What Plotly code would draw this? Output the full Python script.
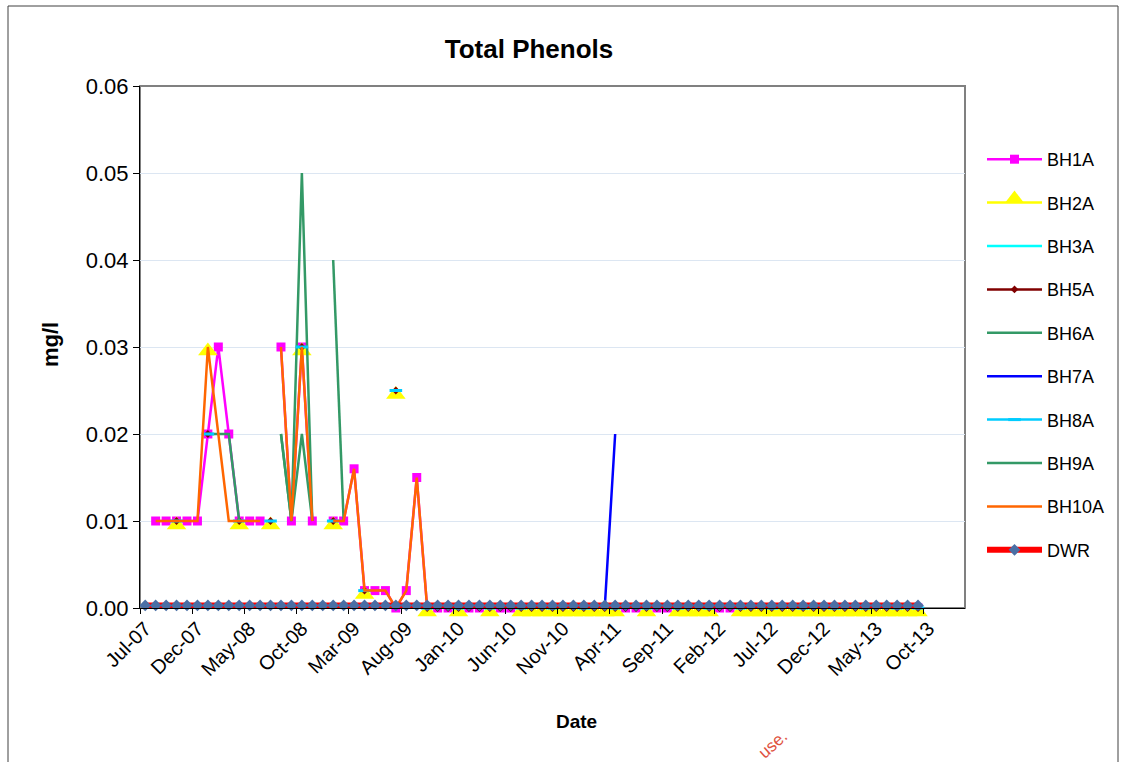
import plotly.graph_objects as go

# ---------------- data (index 0 = Jul-07, monthly) ----------------
tick_labels = ["Jul-07", "Dec-07", "May-08", "Oct-08", "Mar-09", "Aug-09", "Jan-10", "Jun-10",
               "Nov-10", "Apr-11", "Sep-11", "Feb-12", "Jul-12", "Dec-12", "May-13", "Oct-13"]
tick_index = [0, 5, 10, 15, 20, 25, 30, 35, 40, 45, 50, 55, 60, 65, 70, 75]
month_index = list(range(75))  # Jul-07 .. Sep-13

N = None
bh1a = [N, 0.01, 0.01, 0.01, 0.01, 0.01, 0.02, 0.03, 0.02, 0.01,
        0.01, 0.01, N, 0.03, 0.01, 0.03, 0.01, N, 0.01, 0.01,
        0.016, 0.002, 0.002, 0.002, 0, 0.002, 0.015, 0, 0, 0,
        0, 0, 0, 0, 0, 0, 0, 0, 0, 0,
        0, 0, 0, 0, 0, 0, 0, 0, 0, 0,
        0, 0, 0, 0, 0, 0, 0, 0, 0, 0,
        0, 0, 0, 0, 0, 0, 0, 0, 0, 0,
        0, 0, 0, 0, 0]
bh2a = [N, N, N, 0.01, N, N, 0.03, N, N, 0.01,
        N, N, 0.01, N, N, 0.03, N, N, 0.01, N,
        N, 0.002, N, N, 0.025, N, N, 0, N, N,
        0, N, N, 0, N, N, 0, 0, 0, 0,
        0, 0, 0, 0, 0, 0, N, N, 0, N,
        N, 0, 0, 0, 0, N, N, 0, 0, 0,
        0, 0, 0, 0, 0, 0, 0, 0, 0, 0,
        0, 0, 0, 0, 0]
bh3a = [N, N, N, 0.01, N, N, 0.02, N, N, 0.01,
        N, N, 0.01, N, N, 0.03, N, N, 0.01, N,
        N, 0.002, N, N, 0.025, N, N, 0, N, N,
        0, N, N, 0, N, N, 0, N, N, 0,
        N, N, 0, N, N, 0, N, N, 0, N,
        N, 0, N, N, 0, N, N, 0, N, N,
        0, N, N, 0, N, N, 0, N, N, 0,
        N, N, 0, N, N]
bh5a = [N, N, N, 0.01, N, N, 0.02, N, N, 0.01,
        N, N, 0.01, N, N, 0.03, N, N, 0.01, N,
        N, 0.002, N, N, 0.025, N, N, 0, 0, 0,
        0, 0, 0, 0, 0, 0, 0, 0, 0, 0,
        0, 0, 0, 0, 0, 0, 0, 0, 0, 0,
        0, 0, 0, 0, 0, 0, 0, 0, 0, 0,
        0, 0, 0, 0, 0, 0, 0, 0, 0, 0,
        0, 0, 0, 0, 0]
bh6a = [N, N, N, N, N, N, 0.02, 0.02, 0.02, 0.01,
        N, N, N, 0.02, 0.01, 0.05, 0.01, N, 0.04, 0.01,
        N, N, N, N, N, N, N, N, N, N,
        N, N, N, N, N, N, N, N, N, N,
        N, N, N, N, N, N, N, N, N, N,
        N, N, N, N, N, N, N, N, N, N,
        N, N, N, N, N, N, N, N, N, N,
        N, N, N, N, N]
bh7a = [N, N, N, N, N, N, N, N, N, N,
        N, N, N, N, N, N, N, N, N, N,
        N, N, N, N, N, N, N, 0, 0, 0,
        0, 0, 0, 0, 0, 0, 0, 0, 0, 0,
        0, 0, 0, 0, 0, 0.02, N, N, N, N,
        N, N, N, N, N, N, N, N, N, N,
        N, N, N, N, N, N, N, N, N, N,
        N, N, N, N, N]
bh8a = [N, N, N, 0.01, N, N, 0.02, N, N, 0.01,
        N, N, 0.01, N, N, 0.03, N, N, 0.01, N,
        N, 0.002, N, N, 0.025, N, N, 0, N, N,
        0, N, N, 0, N, N, 0, N, N, 0,
        N, N, 0, N, N, 0, N, N, 0, N,
        N, 0, N, N, 0, N, N, 0, N, N,
        0, N, N, 0, N, N, 0, N, N, 0,
        N, N, 0, N, 0]
bh9a = [N, N, N, N, N, N, N, N, N, N,
        N, N, N, 0.02, 0.01, 0.02, 0.01, N, N, N,
        N, N, N, N, N, N, N, N, N, N,
        N, N, N, N, N, N, N, N, N, N,
        N, N, N, N, N, N, N, N, N, N,
        N, N, N, N, N, N, N, N, N, N,
        N, N, N, N, N, N, N, N, N, N,
        N, N, N, N, N]
bh10a = [N, 0.01, 0.01, 0.01, 0.01, 0.01, 0.03, 0.02, 0.01, 0.01,
         0.01, 0.01, N, 0.03, 0.01, 0.03, 0.01, N, 0.01, 0.01,
         0.016, 0.002, 0.002, 0.002, 0, 0.002, 0.015, 0, 0, 0,
         0, 0, 0, 0, 0, 0, 0, 0, 0, 0,
         0, 0, 0, 0, 0, 0, 0, 0, 0, 0,
         0, 0, 0, 0, 0, 0, 0, 0, 0, 0,
         0, 0, 0, 0, 0, 0, 0, 0, 0, 0,
         0, 0, 0, 0, 0]
dwr = [0.0003] * 75

FONT = "Liberation Sans, Arial, sans-serif"

series = [
    ("BH1A", bh1a, dict(color="#FF00FF", width=2.5), dict(symbol="square", size=9, color="#FF00FF"), "lines+markers"),
    ("BH2A", bh2a, dict(color="#FFFF00", width=2.5),
     dict(symbol="triangle-up", angle=0, standoff=4, size=17, color="#FFFF00"), "lines+markers"),
    ("BH3A", bh3a, dict(color="#00FFFF", width=2.5), None, "lines"),
    ("BH5A", bh5a, dict(color="#800000", width=2.5), dict(symbol="diamond", size=6, color="#800000"), "lines+markers"),
    ("BH6A", bh6a, dict(color="#339966", width=2.5), None, "lines"),
    ("BH7A", bh7a, dict(color="#0000FF", width=2.5), None, "lines"),
    ("BH8A", bh8a, dict(color="#00CCFF", width=2.5),
     dict(symbol="line-ew", size=9, color="#00CCFF", line=dict(color="#00CCFF", width=3)), "lines+markers"),
    ("BH9A", bh9a, dict(color="#339966", width=2.5), None, "lines"),
    ("BH10A", bh10a, dict(color="#FF6600", width=2.5), None, "lines"),
    ("DWR", dwr, dict(color="#FF0000", width=6), dict(symbol="diamond", size=9, color="#4A6FA5"), "lines+markers"),
]

fig = go.Figure()
for name, vals, line, marker, mode in series:
    kw = dict(x=month_index, y=vals, name=name, mode=mode, line=line,
              connectgaps=False, cliponaxis=False, legendgroup=name)
    if marker is not None:
        kw["marker"] = marker
    fig.add_trace(go.Scatter(**kw))

L, R, T, B = 140, 161, 86, 154
W, H = 1126, 762
pw, ph = W - L - R, H - T - B

def px_x(x):
    return (x - L) / pw

def px_y(y):
    return (H - B - y) / ph

fig.update_layout(
    width=W, height=H, autosize=False,
    margin=dict(l=L, r=R, t=T, b=B, pad=0),
    paper_bgcolor="white", plot_bgcolor="white",
    font=dict(family=FONT, size=18, color="black"),
    title=dict(text="<b>Total Phenols</b>", x=529 / W, xref="container", xanchor="center",
               y=1 - 49 / H, yref="container", yanchor="middle",
               font=dict(family=FONT, size=26, color="black")),
    showlegend=True,
    legend=dict(x=px_x(982), y=px_y(141), xanchor="left", yanchor="top",
                font=dict(family=FONT, size=18, color="black"),
                tracegroupgap=17, itemwidth=55, bgcolor="rgba(0,0,0,0)"),
    xaxis=dict(range=[-0.5, 78.5], tickmode="array", tickvals=tick_index, ticktext=tick_labels,
               tickangle=-45, ticks="", showgrid=False, zeroline=False,
               showline=True, linecolor="black", linewidth=1,
               tickfont=dict(family=FONT, size=20, color="black"),
               minor=dict(tickmode="array", tickvals=[i - 0.5 for i in tick_index[:-1]] + [74.5],
                          ticks="outside", ticklen=5, tickcolor="black", showgrid=False)),
    yaxis=dict(range=[0, 0.06], tickmode="linear", tick0=0, dtick=0.01, tickformat=".2f",
               ticks="outside", ticklen=6, tickcolor="black",
               showgrid=True, gridcolor="#DCE6F2", gridwidth=1, zeroline=False,
               showline=True, linecolor="black", linewidth=1,
               tickfont=dict(family=FONT, size=22, color="black")),
    shapes=[
        dict(type="rect", xref="paper", yref="paper", x0=0, x1=1, y0=0, y1=1,
             line=dict(color="#808080", width=2), layer="below"),
        dict(type="rect", xref="paper", yref="paper", x0=px_x(8), x1=px_x(1118),
             y0=px_y(780), y1=px_y(6), line=dict(color="#404040", width=1), layer="below"),
    ],
    annotations=[
        dict(text="<b>mg/l</b>", xref="paper", yref="paper", x=px_x(50), y=px_y(345),
             xanchor="center", yanchor="middle",
             textangle=-90, showarrow=False, font=dict(family=FONT, size=22, color="black")),
        dict(text="<b>Date</b>", xref="paper", yref="paper", x=px_x(576), y=px_y(721),
             xanchor="center", yanchor="middle",
             showarrow=False, font=dict(family=FONT, size=19, color="black")),
        dict(text="use.", xref="paper", yref="paper", x=px_x(794), y=px_y(724),
             xanchor="right", yanchor="top", textangle=-42, showarrow=False,
             font=dict(family=FONT, size=17, color="#E0533F")),
    ],
)

fig.write_html("out.html")
